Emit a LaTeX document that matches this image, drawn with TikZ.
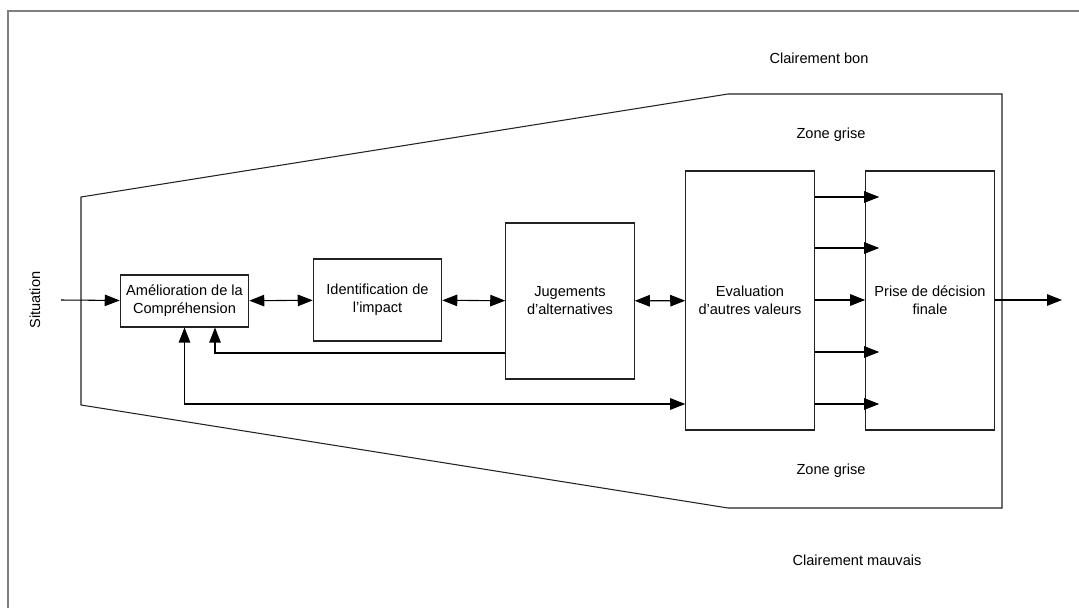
\documentclass[tikz,border=0pt]{standalone}
\usepackage{fontspec}
\setmainfont{Liberation Sans}
\usepackage{xcolor}
\definecolor{frame}{HTML}{7F7F7F}
\definecolor{ink}{HTML}{222222}
\usetikzlibrary{arrows.meta,positioning,calc}

\begin{document}
\begin{tikzpicture}[
  x=0.02cm, y=-0.02cm,
  font=\fontsize{8.3}{10.2}\selectfont,
  >={Triangle[length=3mm,width=2.3mm]},
  line width=0.6pt,
  box/.style={draw=ink, align=center, inner sep=2pt, minimum width=2.57cm},
  zone/.style={font=\fontsize{8.3}{10.2}\selectfont},
]
\useasboundingbox (0,0) rectangle (1079,608);

% Frame and zone
\draw[frame] (8,608) -- (8,11) -- (1079,11);
\draw[ink] (728,94) -- (1002,94) -- (1002,508) -- (728,508) -- (81,405) -- (81,197) -- cycle;

% Zone labels
\node[zone] (bon) at (819,58) {Clairement bon};
\node[zone] (grisehaut) at (831,135) {Zone grise};
\node[zone] (grisebas) at (831,471) {Zone grise};
\node[zone] (mauvais) at (857,560) {Clairement mauvais};

% Process boxes
\node[rotate=90] (sit) at (35,300) {Situation};
\node[box, minimum height=1.04cm] (amel) at (184.5,301) {Amélioration de la\\Compréhension};
\node[box, minimum height=1.64cm] (ident) at (377.5,300) {Identification de\\l’impact};
\node[box, minimum height=3.12cm] (jug) at (570,301) {Jugements\\d’alternatives};
\node[box, minimum height=5.18cm] (eval) at (750,300.5) {Evaluation\\d’autres valeurs};
\node[box, minimum height=5.18cm] (prise) at (930,300.5) {Prise de décision\\finale};

\coordinate (entree) at (61,300);
\coordinate (sortie) at (1062,300);

\draw[->] (entree) -- (amel);
\draw[<->] (amel) -- (ident);
\draw[<->] (ident) -- (jug);
\draw[<->] (jug) -- (eval);
\draw[->] (eval.east |- 0,300) -- (prise.west |- 0,300);
\foreach \y in {197,248,352,404}
  \draw[->] (eval.east |- 0,\y) -- ($(prise.west |- 0,\y)+(14,0)$);
\draw[->] (prise.east |- 0,300) -- (sortie);

% Feedback
\draw[->] (jug.west |- 0,353) -| ($(amel.south)+(30.5,0)$);
\draw[<->] (amel.south) |- (eval.west |- 0,404);
\end{tikzpicture}
\end{document}
